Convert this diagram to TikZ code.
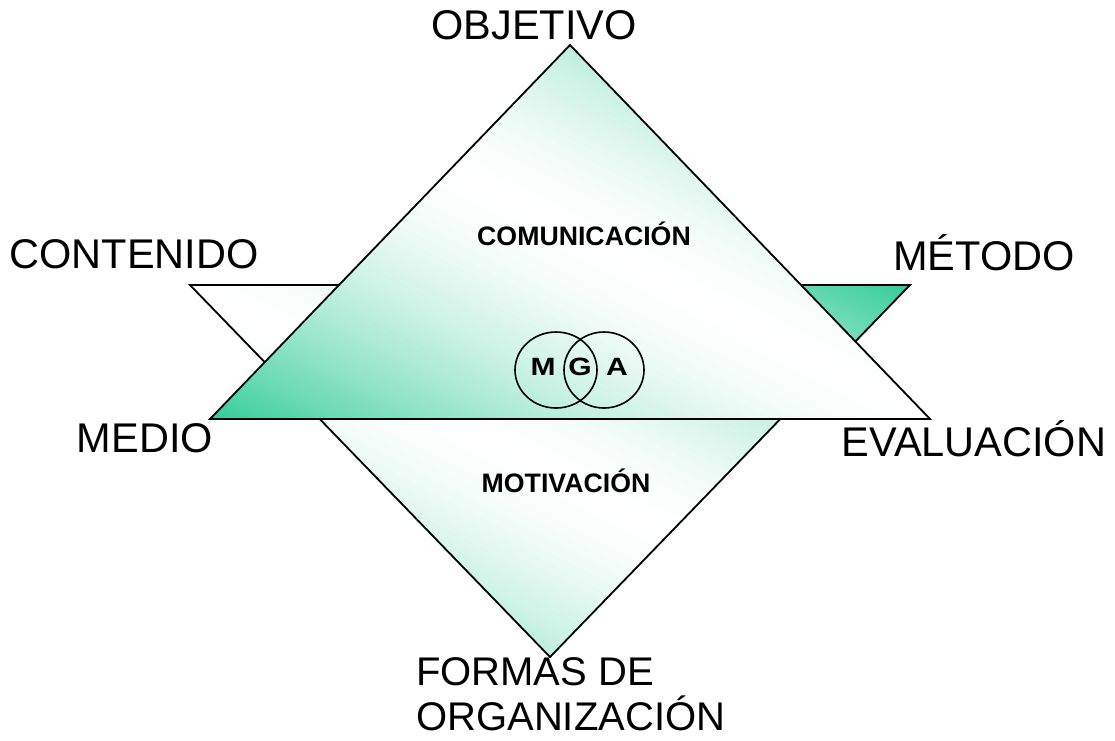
\documentclass[tikz,border=0pt]{standalone}
\usepackage{fontspec}
\setmainfont{Liberation Sans}
\definecolor{sg}{RGB}{51,204,153}
% diagonal "green - white - green" gradient in the unit square (u right, v up)
\newcommand{\pptgradfill}{%
  \foreach \i in {0,...,199}{%
    \pgfmathsetmacro{\ta}{\i/100}%
    \pgfmathsetmacro{\tb}{(\i+1.4)/100}%
    \pgfmathsetmacro{\pc}{100*pow(abs(\i+0.5-100)/100,1.6)}%
    \fill[sg!\pc!white] (\ta+2,-2) -- (\tb+2,-2) -- (\tb-2,2) -- (\ta-2,2) -- cycle;
  }}
\begin{document}
\begin{tikzpicture}[x=1pt,y=-1pt,
  triline/.style={draw=black,line width=1.8pt,line join=miter},
  circ/.style={draw=black,line width=1.6pt},
  biglabel/.style={font=\fontsize{41.5}{47}\selectfont,inner sep=0pt},
  boldlabel/.style={font=\fontsize{26.7}{30}\bfseries\selectfont,inner sep=0pt},
  mgalabel/.style={font=\fontsize{25}{30}\bfseries\selectfont,inner sep=0pt}]
\useasboundingbox[fill=white] (0,0) rectangle (1115,740);
% vertices
\coordinate (lt) at (190,285);
\coordinate (rt) at (910,285);
\coordinate (bt) at (550,657);
\coordinate (ap) at (570,45);
\coordinate (bl) at (210,419);
\coordinate (br) at (930,419);
% lower (inverted) triangle
\begin{scope}
  \clip (lt) -- (rt) -- (bt) -- cycle;
  \begin{scope}[shift={(190,657)},x={(720pt,0pt)},y={(0pt,372pt)}]
    \pptgradfill
  \end{scope}
\end{scope}
\draw[triline] (lt) -- (rt) -- (bt) -- cycle;
% upper triangle
\begin{scope}
  \clip (ap) -- (br) -- (bl) -- cycle;
  \begin{scope}[shift={(210,419)},x={(720pt,0pt)},y={(0pt,374pt)}]
    \pptgradfill
  \end{scope}
\end{scope}
\draw[triline] (ap) -- (br) -- (bl) -- cycle;
% MGA circles
\draw[circ] (556,370) ellipse [x radius=41,y radius=38];
\draw[circ] (604,370) ellipse [x radius=40,y radius=38];
\node[mgalabel] (m) at (543,367) {\scalebox{1.2}[1]{M}};
\node[mgalabel] (g) at (580,367) {\scalebox{1.2}[1]{G}};
\node[mgalabel] (a) at (617,367) {\scalebox{1.2}[1]{A}};
% inner labels
\node[boldlabel] (com) at (584,234) {COMUNICACIÓN};
\node[boldlabel] (mot) at (566,481) {MOTIVACIÓN};
% outer labels
\node[biglabel] (obj) at (534,25) {OBJETIVO};
\node[biglabel] (cont) at (134,254) {CONTENIDO};
\node[biglabel] (met) at (984,253) {MÉTODO};
\node[biglabel] (med) at (145,438) {MEDIO};
\node[biglabel] (eva) at (974,439) {EVALUACIÓN};
\node[biglabel,font=\fontsize{40}{45}\selectfont,align=left,anchor=north west] (for) at (416,657) {FORMAS DE\\ORGANIZACIÓN};
\end{tikzpicture}
\end{document}
